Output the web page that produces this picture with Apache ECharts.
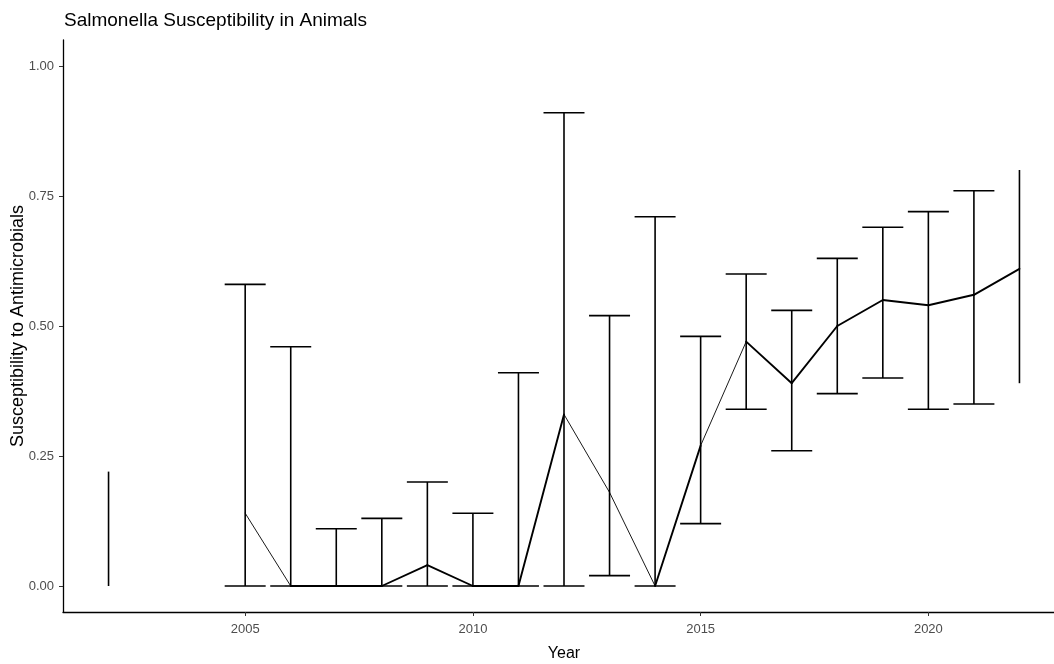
<!DOCTYPE html>
<html>
<head>
<meta charset="utf-8">
<script src="https://cdn.jsdelivr.net/npm/echarts@6/dist/echarts.min.js"></script>
<style>
  html, body { margin: 0; padding: 0; background: #fff; }
  #chart { width: 1054px; height: 664px; }
</style>
</head>
<body>
<div id="chart"></div>
<script>
// Yearly susceptibility estimates with confidence limits
const years = [2002, 2005, 2006, 2007, 2008, 2009, 2010, 2011, 2012, 2013, 2014, 2015, 2016, 2017, 2018, 2019, 2020, 2021, 2022];
const means = [null, 0.14, 0.00, 0.00, 0.00, 0.04, 0.00, 0.00, 0.33, 0.18, 0.00, 0.27, 0.47, 0.39, 0.50, 0.55, 0.54, 0.56, 0.61];
const lower = [0.00, 0.00, 0.00, 0.00, 0.00, 0.00, 0.00, 0.00, 0.00, 0.02, 0.00, 0.12, 0.34, 0.26, 0.37, 0.40, 0.34, 0.35, 0.39];
const upper = [0.22, 0.58, 0.46, 0.11, 0.13, 0.20, 0.14, 0.41, 0.91, 0.52, 0.71, 0.48, 0.60, 0.53, 0.63, 0.69, 0.72, 0.76, 0.80];
const xTicks = [2005, 2010, 2015, 2020];
const yTicks = [0, 0.25, 0.5, 0.75, 1];

// Drawing settings
const CAP_HALF = 0.45;             // half-width of the error-bar caps, in years
const X_MIN = 2001, X_MAX = 2023;  // panel range (expanded around the data)
const Y_MIN = -0.05, Y_MAX = 1.05;
const thinFrom = [2005, 2012, 2013, 2015];   // line segments drawn with the thin stroke
const INK = '#000000';

const firstYear = years[0], lastYear = years[years.length - 1];

const barData = years.map((y, i) => [y, lower[i], upper[i]]);

// consecutive non-missing means become line segments
const segData = [];
for (let i = 0; i < years.length - 1; i++) {
  if (means[i] != null && means[i + 1] != null) {
    segData.push([years[i], means[i], years[i + 1], means[i + 1]]);
  }
}

const chart = echarts.init(document.getElementById('chart'), null, { renderer: 'canvas' });

const option = {
  animation: false,
  backgroundColor: '#ffffff',
  title: {
    text: 'Salmonella Susceptibility in Animals',
    left: 59,
    top: 6,
    textStyle: { fontFamily: 'Liberation Sans', fontSize: 19, fontWeight: 'normal', color: '#000' }
  },
  // vertical axis title, centred on the panel height
  graphic: [
    {
      type: 'text',
      x: 18,
      y: 326,
      rotation: Math.PI / 2,
      style: {
        text: 'Susceptibility to Antimicrobials',
        fontFamily: 'Liberation Sans',
        fontSize: 18,
        fill: '#000',
        align: 'center',
        verticalAlign: 'middle'
      }
    }
  ],
  grid: { left: 63, right: -11, top: 40, bottom: 52, containLabel: false, outerBoundsMode: 'none' },
  xAxis: {
    type: 'value',
    min: X_MIN,
    max: X_MAX,
    name: 'Year',
    nameLocation: 'middle',
    nameGap: 34,
    nameTextStyle: { fontFamily: 'Liberation Sans', fontSize: 16, color: '#000' },
    axisLine: { show: true, onZero: false, lineStyle: { color: '#000', width: 1.3 } },
    axisTick: { show: true, length: 4, customValues: xTicks, lineStyle: { color: '#333', width: 1 } },
    axisLabel: {
      customValues: xTicks,
      margin: 11,
      fontFamily: 'Liberation Sans', fontSize: 13, color: '#4d4d4d',
      formatter: v => String(v)
    },
    splitLine: { show: false }
  },
  yAxis: {
    type: 'value',
    min: Y_MIN,
    max: Y_MAX,
    axisLine: { show: true, onZero: false, lineStyle: { color: '#000', width: 1.3 } },
    axisTick: { show: true, length: 4, customValues: yTicks, lineStyle: { color: '#333', width: 1 } },
    axisLabel: {
      customValues: yTicks,
      margin: 9,
      fontFamily: 'Liberation Sans', fontSize: 13, color: '#4d4d4d',
      formatter: v => v.toFixed(2)
    },
    splitLine: { show: false }
  },
  series: [
    {
      // vertical error bars with caps where the cap stays inside the data range
      type: 'custom',
      data: barData,
      clip: false,
      renderItem: function (params, api) {
        const x = api.value(0), lo = api.value(1), hi = api.value(2);
        const pLo = api.coord([x, lo]);
        const pHi = api.coord([x, hi]);
        const style = { stroke: INK, lineWidth: 1.6 };
        const children = [
          { type: 'line', shape: { x1: pLo[0], y1: pLo[1], x2: pHi[0], y2: pHi[1] }, style }
        ];
        if (x - CAP_HALF >= firstYear && x + CAP_HALF <= lastYear) {
          const l = api.coord([x - CAP_HALF, 0])[0];
          const r = api.coord([x + CAP_HALF, 0])[0];
          children.push({ type: 'line', shape: { x1: l, y1: pLo[1], x2: r, y2: pLo[1] }, style });
          children.push({ type: 'line', shape: { x1: l, y1: pHi[1], x2: r, y2: pHi[1] }, style });
        }
        return { type: 'group', children };
      }
    },
    {
      // mean trend line, segment by segment
      type: 'custom',
      data: segData,
      renderItem: function (params, api) {
        const x0 = api.value(0), y0 = api.value(1), x1 = api.value(2), y1 = api.value(3);
        const a = api.coord([x0, y0]);
        const b = api.coord([x1, y1]);
        const w = thinFrom.indexOf(x0) >= 0 ? 0.9 : 1.9;
        return {
          type: 'line',
          shape: { x1: a[0], y1: a[1], x2: b[0], y2: b[1] },
          style: { stroke: INK, lineWidth: w, lineCap: 'round', lineJoin: 'round' }
        };
      }
    }
  ]
};

chart.setOption(option);
</script>
</body>
</html>
